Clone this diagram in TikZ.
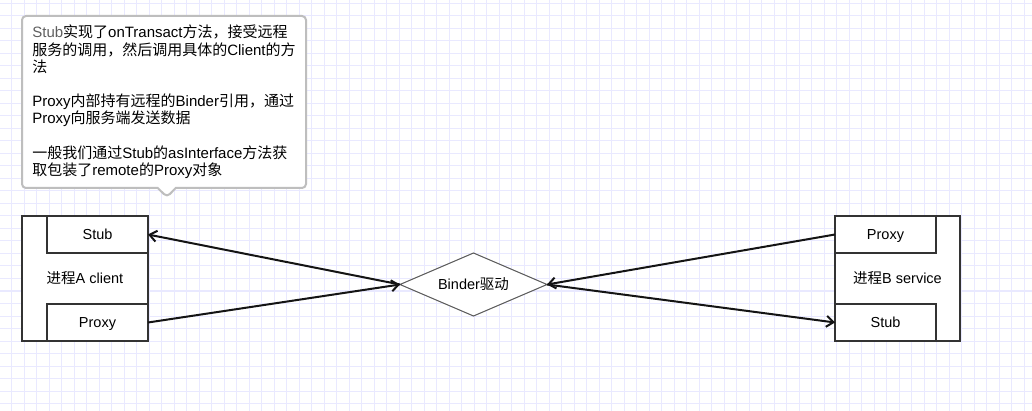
\documentclass[tikz,border=0pt]{standalone}
\usepackage{fontspec}
\setmainfont{Liberation Sans}
\newfontfamily\zh{Noto Sans CJK SC}
\usetikzlibrary{arrows.meta, shapes.geometric, shapes.callouts}

\definecolor{gridline}{RGB}{233,233,255}
\definecolor{boxline}{RGB}{51,51,51}
\definecolor{noteline}{RGB}{190,190,190}
\definecolor{stubgray}{RGB}{95,95,95}

\begin{document}
\begin{tikzpicture}[
    x=1pt, y=-1pt,
    every node/.style={font=\fontsize{14.5}{17}\selectfont, text=black},
    proc/.style={rectangle, draw=boxline, line width=2pt, fill=white, minimum width=126pt, minimum height=125pt, inner sep=0pt, outer sep=0pt},
    part/.style={rectangle, draw=boxline, line width=2pt, fill=white, minimum width=101pt, minimum height=37pt, inner sep=0pt, outer sep=0pt, text height=13.5pt, text depth=3pt},
    driver/.style={diamond, aspect=2.33, draw=black!65, line width=1pt, fill=white, minimum width=147pt, minimum height=63pt, inner sep=0pt, outer sep=0pt},
    note/.style={rectangle callout, draw=noteline, line width=2pt, fill=white, rounded corners=4pt, callout pointer width=18pt, minimum width=284pt, minimum height=172pt, align=left, outer sep=0pt, font=\fontsize{15}{17.2}\selectfont},
    arrow/.style={-{Straight Barb[length=7pt, width=11pt]}, line width=2pt, black!92}
]

% background and grid
\fill[white] (0,0) rectangle (1032,411);
\useasboundingbox (0,0) rectangle (1032,411);
\foreach \x in {-0.8,11.7,...,1032} \draw[gridline, line width=1pt] (\x,0) -- (\x,411);
\foreach \y in {3.5,16,...,411} \draw[gridline, line width=1pt] (0,\y) -- (1032,\y);

% note
\node[note, callout absolute pointer={(167,197)}] (remark) at (164,102) {%
{\color{stubgray}Stub}{\zh 实现了}onTransact{\zh 方法，接受远程}\\
{\zh 服务的调用，然后调用具体的}Client{\zh 的方}\\
{\zh 法}\\[17.2pt]
Proxy{\zh 内部持有远程的}Binder{\zh 引用，通过}\\
Proxy{\zh 向服务端发送数据}\\[17.2pt]
{\zh 一般我们通过}Stub{\zh 的}asInterface{\zh 方法获}\\
{\zh 取包装了}remote{\zh 的}Proxy{\zh 对象}};

% process A
\node[proc] (procA) at (85,278.5) {{\zh 进程}A client};
\node[part] (stubA) at (97.5,234.5) {Stub};
\node[part] (proxyA) at (97.5,322.5) {Proxy};

% process B
\node[proc, minimum width=125pt] (procB) at (897.5,278.5) {{\zh 进程}B service};
\node[part] (proxyB) at (885.5,234.5) {Proxy};
\node[part] (stubB) at (885.5,322.5) {Stub};

% binder
\node[driver] (binder) at (473.5,284.5) {Binder{\zh 驱动}};

\draw[arrow] (binder.west) -- (stubA.east);
\draw[arrow] (proxyA.east) -- (binder.west);
\draw[arrow] (proxyB.west) -- (binder.east);
\draw[arrow] (binder.east) -- (stubB.west);

\end{tikzpicture}
\end{document}
